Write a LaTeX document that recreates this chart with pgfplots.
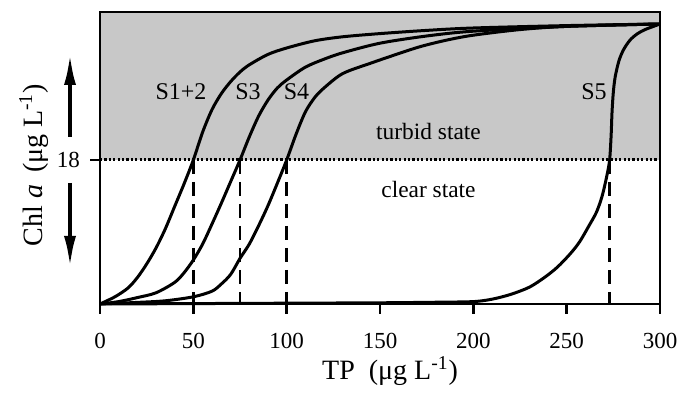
\documentclass[border=0pt]{standalone}
\usepackage{pgfplots}
\pgfplotsset{compat=1.18}
\usepackage{fontspec}
\setmainfont{Liberation Serif}
\usetikzlibrary{arrows.meta}
\definecolor{shade}{RGB}{200,200,200}

\begin{document}
\begin{tikzpicture}
\begin{axis}[
  width=280pt, height=146pt, scale only axis,
  xmin=0, xmax=300, ymin=0, ymax=36.5,
  axis line style={line width=1.3pt},
  xtick={0,50,...,300}, ytick={18},
  tick align=outside, tick pos=left,
  major tick length=5pt,
  every tick/.style={black, line width=1.2pt},
  tick label style={font=\fontsize{11.5}{13}\selectfont},
  /pgf/number format/assume math mode=true,
  xticklabel style={yshift=-6pt},
  yticklabel style={xshift=-1.5pt},
  xlabel={TP\ \ (μg L\textsuperscript{-1})},
  ylabel={Chl \textit{a}\, (μg L\textsuperscript{-1})},
  label style={font=\fontsize{14}{16}\selectfont},
  xlabel style={at={(axis description cs:0.518,0)}, anchor=base, yshift=-38pt},
  ylabel style={at={(axis description cs:-0.118,0.476)}, anchor=center},
  clip=false,
  axis on top,
]
% shaded turbid region
\addplot[fill=shade, draw=none] coordinates {(0,18) (300,18) (300,36.5) (0,36.5)};
% threshold
\addplot[line width=1.5pt, dash pattern=on 1.1pt off 1.1pt] coordinates {(0,18) (300,18)};
% dashed drop lines
\addplot[line width=1.3pt, dash pattern=on 7pt off 4pt] coordinates {(50,18) (50,0)};
\addplot[line width=1.3pt, dash pattern=on 7pt off 4pt] coordinates {(75,18) (75,0)};
\addplot[line width=1.3pt, dash pattern=on 7pt off 4pt] coordinates {(100,18) (100,0)};
\addplot[line width=1.3pt, dash pattern=on 7pt off 4pt] coordinates {(273,18) (273,0)};
% S1+2
\addplot[line width=1.5pt, smooth] coordinates {
(0,0) (8,0.9) (15,2.0) (20,3.3) (25,5.0) (30,7.0) (35,9.4) (40,12.2) (45,15.0)
(50,18.0) (55,21.5) (60,24.3) (65,26.3) (70,27.8) (75,29.0) (80,29.9) (90,31.2)
(100,32.0) (115,32.9) (130,33.4) (150,33.8) (175,34.2) (200,34.5) (250,34.8) (300,35.0)};
% S3
\addplot[line width=1.5pt, smooth] coordinates {
(0,0) (10,0.3) (20,0.8) (30,1.4) (40,2.7) (45,3.9) (50,5.5) (55,7.5) (60,10.0) (65,12.6)
(70,15.3) (75,18.0) (80,20.9) (85,23.5) (90,25.5) (95,27.0) (100,28.0) (110,29.6)
(120,30.6) (130,31.4) (150,32.6) (175,33.5) (200,34.1) (250,34.7) (300,35.0)};
% S4
\addplot[line width=1.5pt, smooth] coordinates {
(0,0) (20,0.2) (35,0.4) (50,0.9) (60,1.6) (65,2.5) (70,3.7) (75,5.7) (80,7.5)
(85,9.8) (90,12.3) (95,15.1) (100,18.0) (105,21.2) (110,24.0) (115,25.8) (120,27.0)
(130,28.8) (145,30.1) (160,31.3) (172,32.2) (186,33.0) (200,33.6) (225,34.3) (250,34.7) (300,35.0)};
% S5
\addplot[line width=1.5pt, smooth] coordinates {
(0,0) (50,0.05) (100,0.1) (150,0.15) (180,0.22) (200,0.3) (210,0.6) (220,1.2)
(230,2.1) (238,3.3) (245,4.6) (252,6.3) (257,7.8) (262,9.8) (266,11.5) (269,13.5)
(271.5,16.0) (273,18.0) (273.8,21) (274.3,24) (275,26.5) (276,28.4) (278,30.4)
(280.5,31.8) (284,33.0) (288,33.8) (292,34.3) (296.5,34.7) (300,35.0)};
% labels
\node[anchor=base, font=\fontsize{12}{14}\selectfont] at (axis cs:43.4,25.5) {S1+2};
\node[anchor=base, font=\fontsize{12}{14}\selectfont] at (axis cs:79.3,25.5) {S3};
\node[anchor=base, font=\fontsize{12}{14}\selectfont] at (axis cs:105.3,25.5) {S4};
\node[anchor=base, font=\fontsize{12}{14}\selectfont] at (axis cs:264.6,25.5) {S5};
\node[anchor=base, font=\fontsize{11.7}{13}\selectfont] at (axis cs:176,20.6) {turbid state};
\node[anchor=base, font=\fontsize{11.7}{13}\selectfont] at (axis cs:176,13.25) {clear state};
% state arrows
\draw[line width=2pt, -{Latex[length=16pt,width=6pt]}] (axis cs:-16.07,20.875) -- (axis cs:-16.07,31.375);
\draw[line width=2pt, -{Latex[length=16pt,width=6pt]}] (axis cs:-16.07,15.125) -- (axis cs:-16.07,4.5);
\end{axis}
\pgfresetboundingbox
\path[use as bounding box] ([shift={(-50pt,-44.5pt)}]current axis.south west) rectangle ([shift={(10.5pt,6pt)}]current axis.north east);
\end{tikzpicture}
\end{document}
